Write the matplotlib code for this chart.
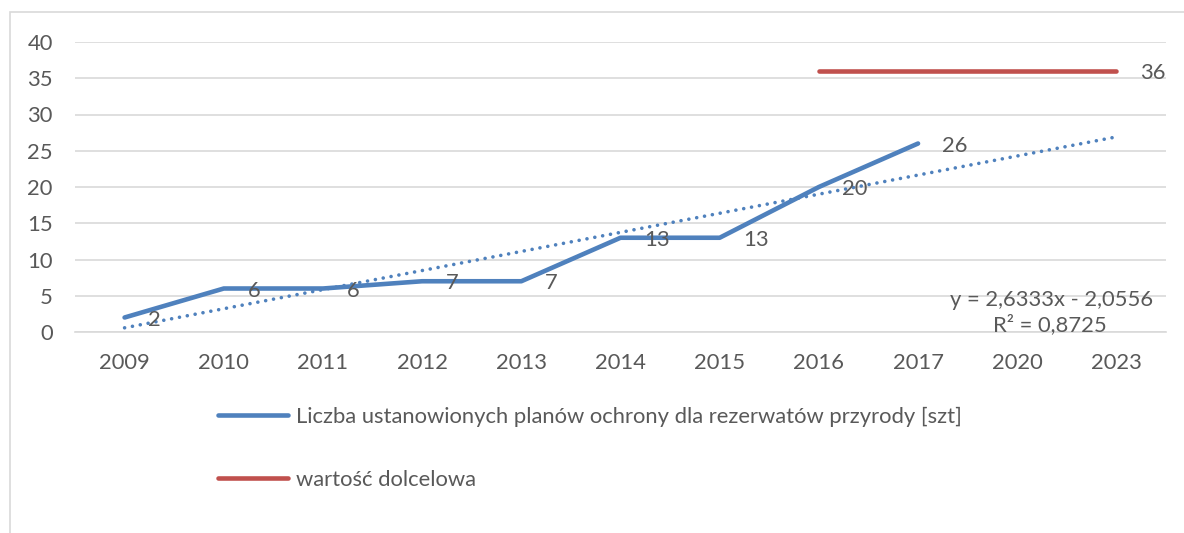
import numpy as np
import matplotlib
matplotlib.use("Agg")
import matplotlib.pyplot as plt
from matplotlib.patches import Rectangle

years = ["2009", "2010", "2011", "2012", "2013", "2014", "2015", "2016", "2017", "2020", "2023"]
plans = [2, 6, 6, 7, 7, 13, 13, 20, 26]
target = [None, None, None, None, None, None, None, 36, 36, 36, 36]

plans_label = "Liczba ustanowionych planów ochrony dla rezerwatów przyrody [szt]"
target_label = "wartość dolcelowa"

BLUE = "#4F81BD"
RED = "#C0504D"
TEXT = "#595959"
GRID = "#D9D9D9"
FS = 15.8

plt.rcParams["font.family"] = ["Lato", "DejaVu Sans"]
plt.rcParams["font.size"] = FS

fig = plt.figure(figsize=(11.84, 5.33), dpi=100)
ax = fig.add_axes([75 / 1184, 1 - 332 / 533, (1166 - 75) / 1184, (332 - 42) / 533])

# chart border (light gray, runs off right/bottom edges)
fig.patches.append(Rectangle((10 / 1184, -0.05), 1.1, 1 - 12 / 533 + 0.05,
                             transform=fig.transFigure, fill=False,
                             edgecolor=GRID, linewidth=1.2))

x_all = np.arange(len(years))
x_plans = x_all[:len(plans)]

ax.plot(x_plans, plans, color=BLUE, linewidth=3.3, solid_capstyle="round",
        solid_joinstyle="round", label=plans_label, zorder=3)

tx = np.array([i for i, v in enumerate(target) if v is not None])
ty = np.array([v for v in target if v is not None])
ax.plot(tx, ty, color=RED, linewidth=3.3, solid_capstyle="round",
        label=target_label, zorder=3)

# linear trend (Excel style, x = 1..n), forecast to the end of the axis
slope, intercept = np.polyfit(x_plans + 1, plans, 1)
trend = slope * (x_all + 1) + intercept
ax.plot(x_all, trend, color=BLUE, linewidth=2.6, linestyle=(0, (0.01, 2.2)),
        dash_capstyle="round", zorder=2)
pred = slope * (x_plans + 1) + intercept
r2 = 1 - np.sum((np.array(plans) - pred) ** 2) / np.sum((np.array(plans) - np.mean(plans)) ** 2)
eq = f"y = {slope:.4f}x - {abs(intercept):.4f}".replace(".", ",")
rr = f"R² = {r2:.4f}".replace(".", ",")
ax.text(9.35, 4.4, eq, ha="center", va="center", color=TEXT, fontsize=FS)
ax.text(9.33, 0.97, rr, ha="center", va="center", color=TEXT, fontsize=FS)

# data labels
for x, v in zip(x_plans, plans):
    ax.annotate(str(v), (x, v), xytext=(17, -1.5), textcoords="offset points",
                ha="left", va="center", color=TEXT, fontsize=FS, zorder=4)
ax.annotate(str(ty[-1]), (tx[-1], ty[-1]), xytext=(17, -1.5), textcoords="offset points",
            ha="left", va="center", color=TEXT, fontsize=FS)

ax.set_xlim(-0.5, len(years) - 0.5)
ax.set_ylim(0, 40)
ax.set_yticks(range(0, 41, 5))
ax.set_xticks(x_all)
ax.set_xticklabels(years)
ax.tick_params(axis="both", length=0, colors=TEXT, labelsize=FS)
ax.tick_params(axis="y", pad=16)
ax.tick_params(axis="x", pad=15)
ax.grid(axis="y", color=GRID, linewidth=1.2)
ax.set_axisbelow(True)
for s in ax.spines.values():
    s.set_visible(False)
ax.spines["bottom"].set_visible(True)
ax.spines["bottom"].set_color(GRID)
ax.spines["bottom"].set_linewidth(1.2)

leg = ax.legend(loc="upper left", bbox_to_anchor=(218 / 1184, 1 - 407 / 533),
                bbox_transform=fig.transFigure, frameon=False, borderpad=0,
                borderaxespad=0, handlelength=3.2, handletextpad=0.36,
                labelspacing=1.95, fontsize=FS)
for t in leg.get_texts():
    t.set_color(TEXT)

fig.savefig("out.png", dpi=100)
